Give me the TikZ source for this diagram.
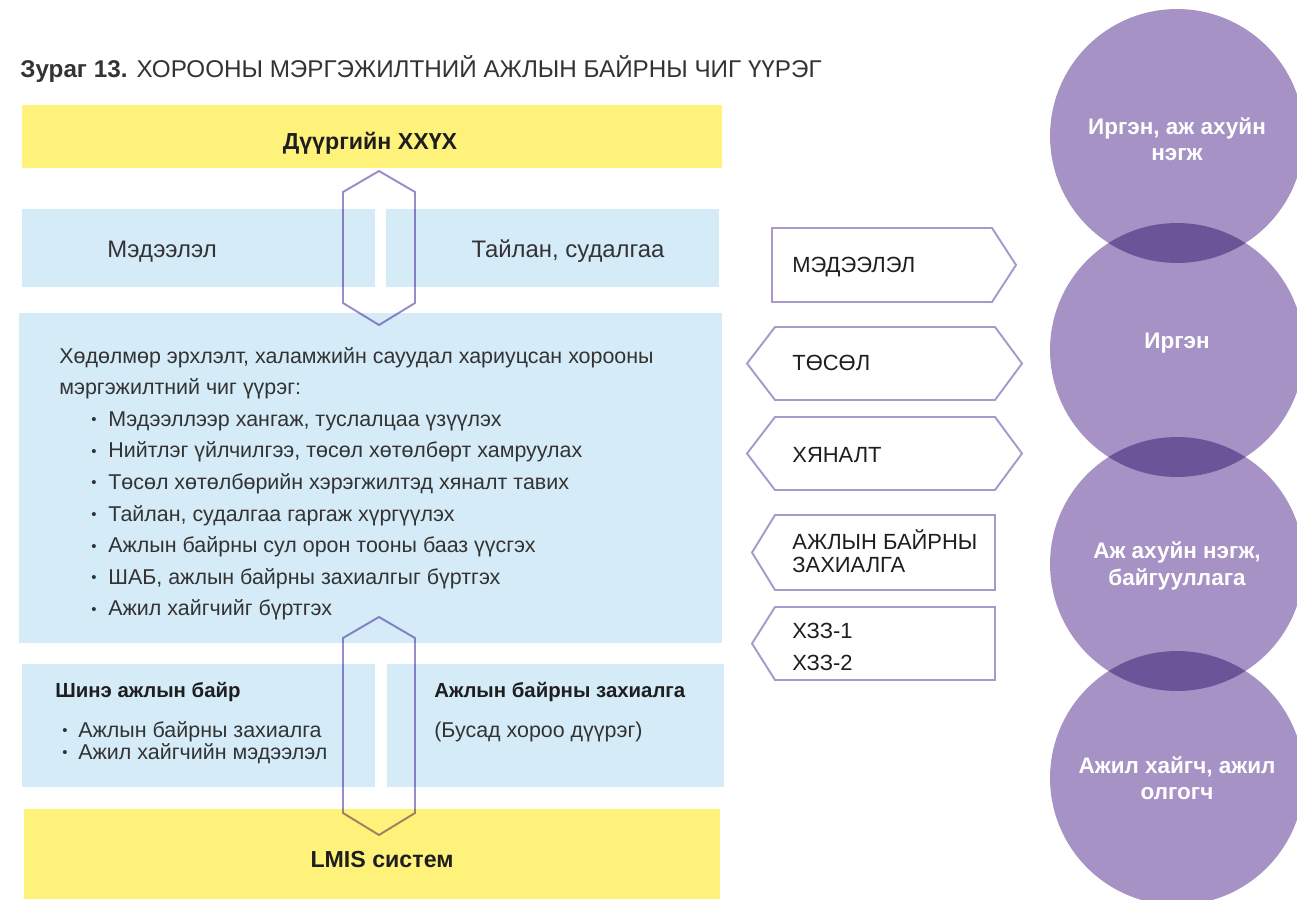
\documentclass[tikz,border=0pt]{standalone}
\usepackage{fontspec}
\setmainfont{Liberation Sans}
\usepackage{xcolor}
\usepackage{tikz}
\usetikzlibrary{calc,positioning}

\definecolor{boxyellow}{HTML}{FFF27A}
\definecolor{boxblue}{HTML}{D5EBF8}
\definecolor{hexline}{HTML}{9B8BCB}
\definecolor{tagline}{HTML}{A898CC}
\definecolor{circfill}{HTML}{A692C5}
\definecolor{circdark}{HTML}{6B5598}
\definecolor{txtgray}{HTML}{333333}
\definecolor{txtdark}{HTML}{1E1E1E}
\newcommand{\smalldot}{\raisebox{0.9pt}{\fontsize{8.5}{9}\selectfont•}}

\begin{document}
\begin{tikzpicture}[x=0.02cm,y=-0.02cm,
		yellowbox/.style={fill=boxyellow,anchor=north west,inner sep=0pt},
		bluebox/.style={fill=boxblue,anchor=north west,inner sep=0pt},
		hexarrow/.style={draw=hexline,line width=1.1pt,blend mode=multiply},
		tagbox/.style={draw=tagline,line width=1.1pt,fill=white},
		plaintxt/.style={font=\fontsize{12.2}{14}\selectfont,text=txtgray,inner sep=0pt,anchor=base west},
		bigtxt/.style={font=\fontsize{13.6}{16}\selectfont,text=txtgray,inner sep=0pt,anchor=base},
		boldtxt/.style={font=\bfseries\fontsize{11.6}{14}\selectfont,text=txtdark,inner sep=0pt,anchor=base west},
		tagtxt/.style={font=\fontsize{12.5}{14}\selectfont,text=txtdark,inner sep=0pt,anchor=base west},
		bubble/.style={circle,fill=circfill,minimum size=5.08cm,inner sep=0pt},
		bubbletxt/.style={text=white,align=center,font=\bfseries\fontsize{12.8}{15}\selectfont,inner sep=0pt}]
		\useasboundingbox (0,0) rectangle (1297,899);
		\clip (0,0) rectangle (1297,899);
		\node[plaintxt,font=\fontsize{13.8}{16}\selectfont] (title) at (20,77) {\textbf{Зураг 13.} ХОРООНЫ МЭРГЭЖИЛТНИЙ АЖЛЫН БАЙРНЫ ЧИГ ҮҮРЭГ};
		% left column
		\node[yellowbox,minimum width=14cm,minimum height=1.26cm] (district) at (22,105) {};
		\node[bluebox,minimum width=7.06cm,minimum height=1.56cm] (infoL) at (22,209) {};
		\node[bluebox,minimum width=6.66cm,minimum height=1.56cm] (infoR) at (386,209) {};
		\node[bluebox,minimum width=14.06cm,minimum height=6.6cm] (duty) at (19,313) {};
		\node[bluebox,minimum width=7.06cm,minimum height=2.46cm] (newjob) at (22,664) {};
		\node[bluebox,minimum width=6.74cm,minimum height=2.46cm] (order) at (387,664) {};
		\node[yellowbox,minimum width=13.92cm,minimum height=1.8cm] (lmis) at (24,809) {};
		\coordinate (hexA) at (379,171);
		\coordinate (hexB) at (379,617);
		\draw[hexarrow] (hexA) -- ++(36,21) -- ++(0,111) -- ++(-36,22) -- ++(-36,-22) -- ++(0,-111) -- cycle;
		\draw[hexarrow] (hexB) -- ++(36,21) -- ++(0,175) -- ++(-36,22) -- ++(-36,-22) -- ++(0,-175) -- cycle;
		\node[boldtxt,anchor=base,font=\bfseries\fontsize{13.2}{15}\selectfont] (districtlbl) at (370,149) {Дүүргийн ХХҮХ};
		\node[bigtxt] (infoLlbl) at (162,257) {Мэдээлэл};
		\node[bigtxt] (infoRlbl) at (568,257) {Тайлан, судалгаа};
		\node[plaintxt] (duty1) at (59,363) {Хөдөлмөр эрхлэлт, халамжийн сауудал хариуцсан хорооны};
		\node[plaintxt] (duty2) at (59,394.6) {мэргэжилтний чиг үүрэг:};
		\foreach \duty [count=\i] in {{Мэдээллээр хангаж, туслалцаа үзүүлэх},{Нийтлэг үйлчилгээ, төсөл хөтөлбөрт хамруулах},{Төсөл хөтөлбөрийн хэрэгжилтэд хяналт тавих},{Тайлан, судалгаа гаргаж хүргүүлэх},{Ажлын байрны сул орон тооны бааз үүсгэх},{ШАБ, ажлын байрны захиалгыг бүртгэх},{Ажил хайгчийг бүртгэх}}
			\node[plaintxt] (item\i) at (91,394.6+31.6*\i) {\makebox[0.34cm][l]{\smalldot}\duty};
		\node[boldtxt] (newjoblbl) at (55,697) {Шинэ ажлын байр};
		\node[plaintxt] (newjob1) at (62,737) {\makebox[0.32cm][l]{\smalldot}Ажлын байрны захиалга};
		\node[plaintxt] (newjob2) at (62,759) {\makebox[0.32cm][l]{\smalldot}Ажил хайгчийн мэдээлэл};
		\node[boldtxt] (orderlbl) at (434,697) {Ажлын байрны захиалга};
		\node[plaintxt] (order1) at (434,737) {(Бусад хороо дүүрэг)};
		\node[boldtxt,anchor=base,font=\bfseries\fontsize{13.2}{16}\selectfont] (lmislbl) at (382,867) {LMIS систем};
		% middle tags
		\draw[tagbox] (772,228) -- (992,228) -- (1016,265) -- (992,302) -- (772,302) -- cycle;
		\draw[tagbox] (775,327) -- (995,327) -- (1022,363.5) -- (995,400) -- (775,400) -- (747,363.5) -- cycle;
		\draw[tagbox] (775,417) -- (995,417) -- (1022,453.5) -- (995,490) -- (775,490) -- (747,453.5) -- cycle;
		\draw[tagbox] (775,515) -- (995,515) -- (995,590) -- (775,590) -- (752,552.5) -- cycle;
		\draw[tagbox] (775,607) -- (995,607) -- (995,680) -- (775,680) -- (752,643.5) -- cycle;
		\node[tagtxt] (tag1) at (792,272) {МЭДЭЭЛЭЛ};
		\node[tagtxt] (tag2) at (792,370) {ТӨСӨЛ};
		\node[tagtxt] (tag3) at (792,462) {ХЯНАЛТ};
		\node[tagtxt] (tag4a) at (792,549) {АЖЛЫН БАЙРНЫ};
		\node[tagtxt] (tag4b) at (792,572) {ЗАХИАЛГА};
		\node[tagtxt] (tag5a) at (792,638) {ХЗЗ-1};
		\node[tagtxt] (tag5b) at (792,670) {ХЗЗ-2};
		% right bubbles
		\node[bubble] (c1) at (1177,136) {};
		\node[bubble] (c2) at (1177,350) {};
		\node[bubble] (c3) at (1177,564) {};
		\node[bubble] (c4) at (1177,778) {};
		\begin{scope}
			\clip (c1) circle (2.54cm);
			\fill[circdark] (c2) circle (2.54cm);
		\end{scope}
		\begin{scope}
			\clip (c2) circle (2.54cm);
			\fill[circdark] (c3) circle (2.54cm);
		\end{scope}
		\begin{scope}
			\clip (c3) circle (2.54cm);
			\fill[circdark] (c4) circle (2.54cm);
		\end{scope}
		\node[bubbletxt] (c1lbl) at (1177,139) {Иргэн, аж ахуйн\\нэгж};
		\node[bubbletxt] (c2lbl) at (1177,343) {Иргэн};
		\node[bubbletxt] (c3lbl) at (1177,566) {Аж ахуйн нэгж,\\байгууллага};
		\node[bubbletxt] (c4lbl) at (1177,778) {Ажил хайгч, ажил\\олгогч};
\end{tikzpicture}
\end{document}
